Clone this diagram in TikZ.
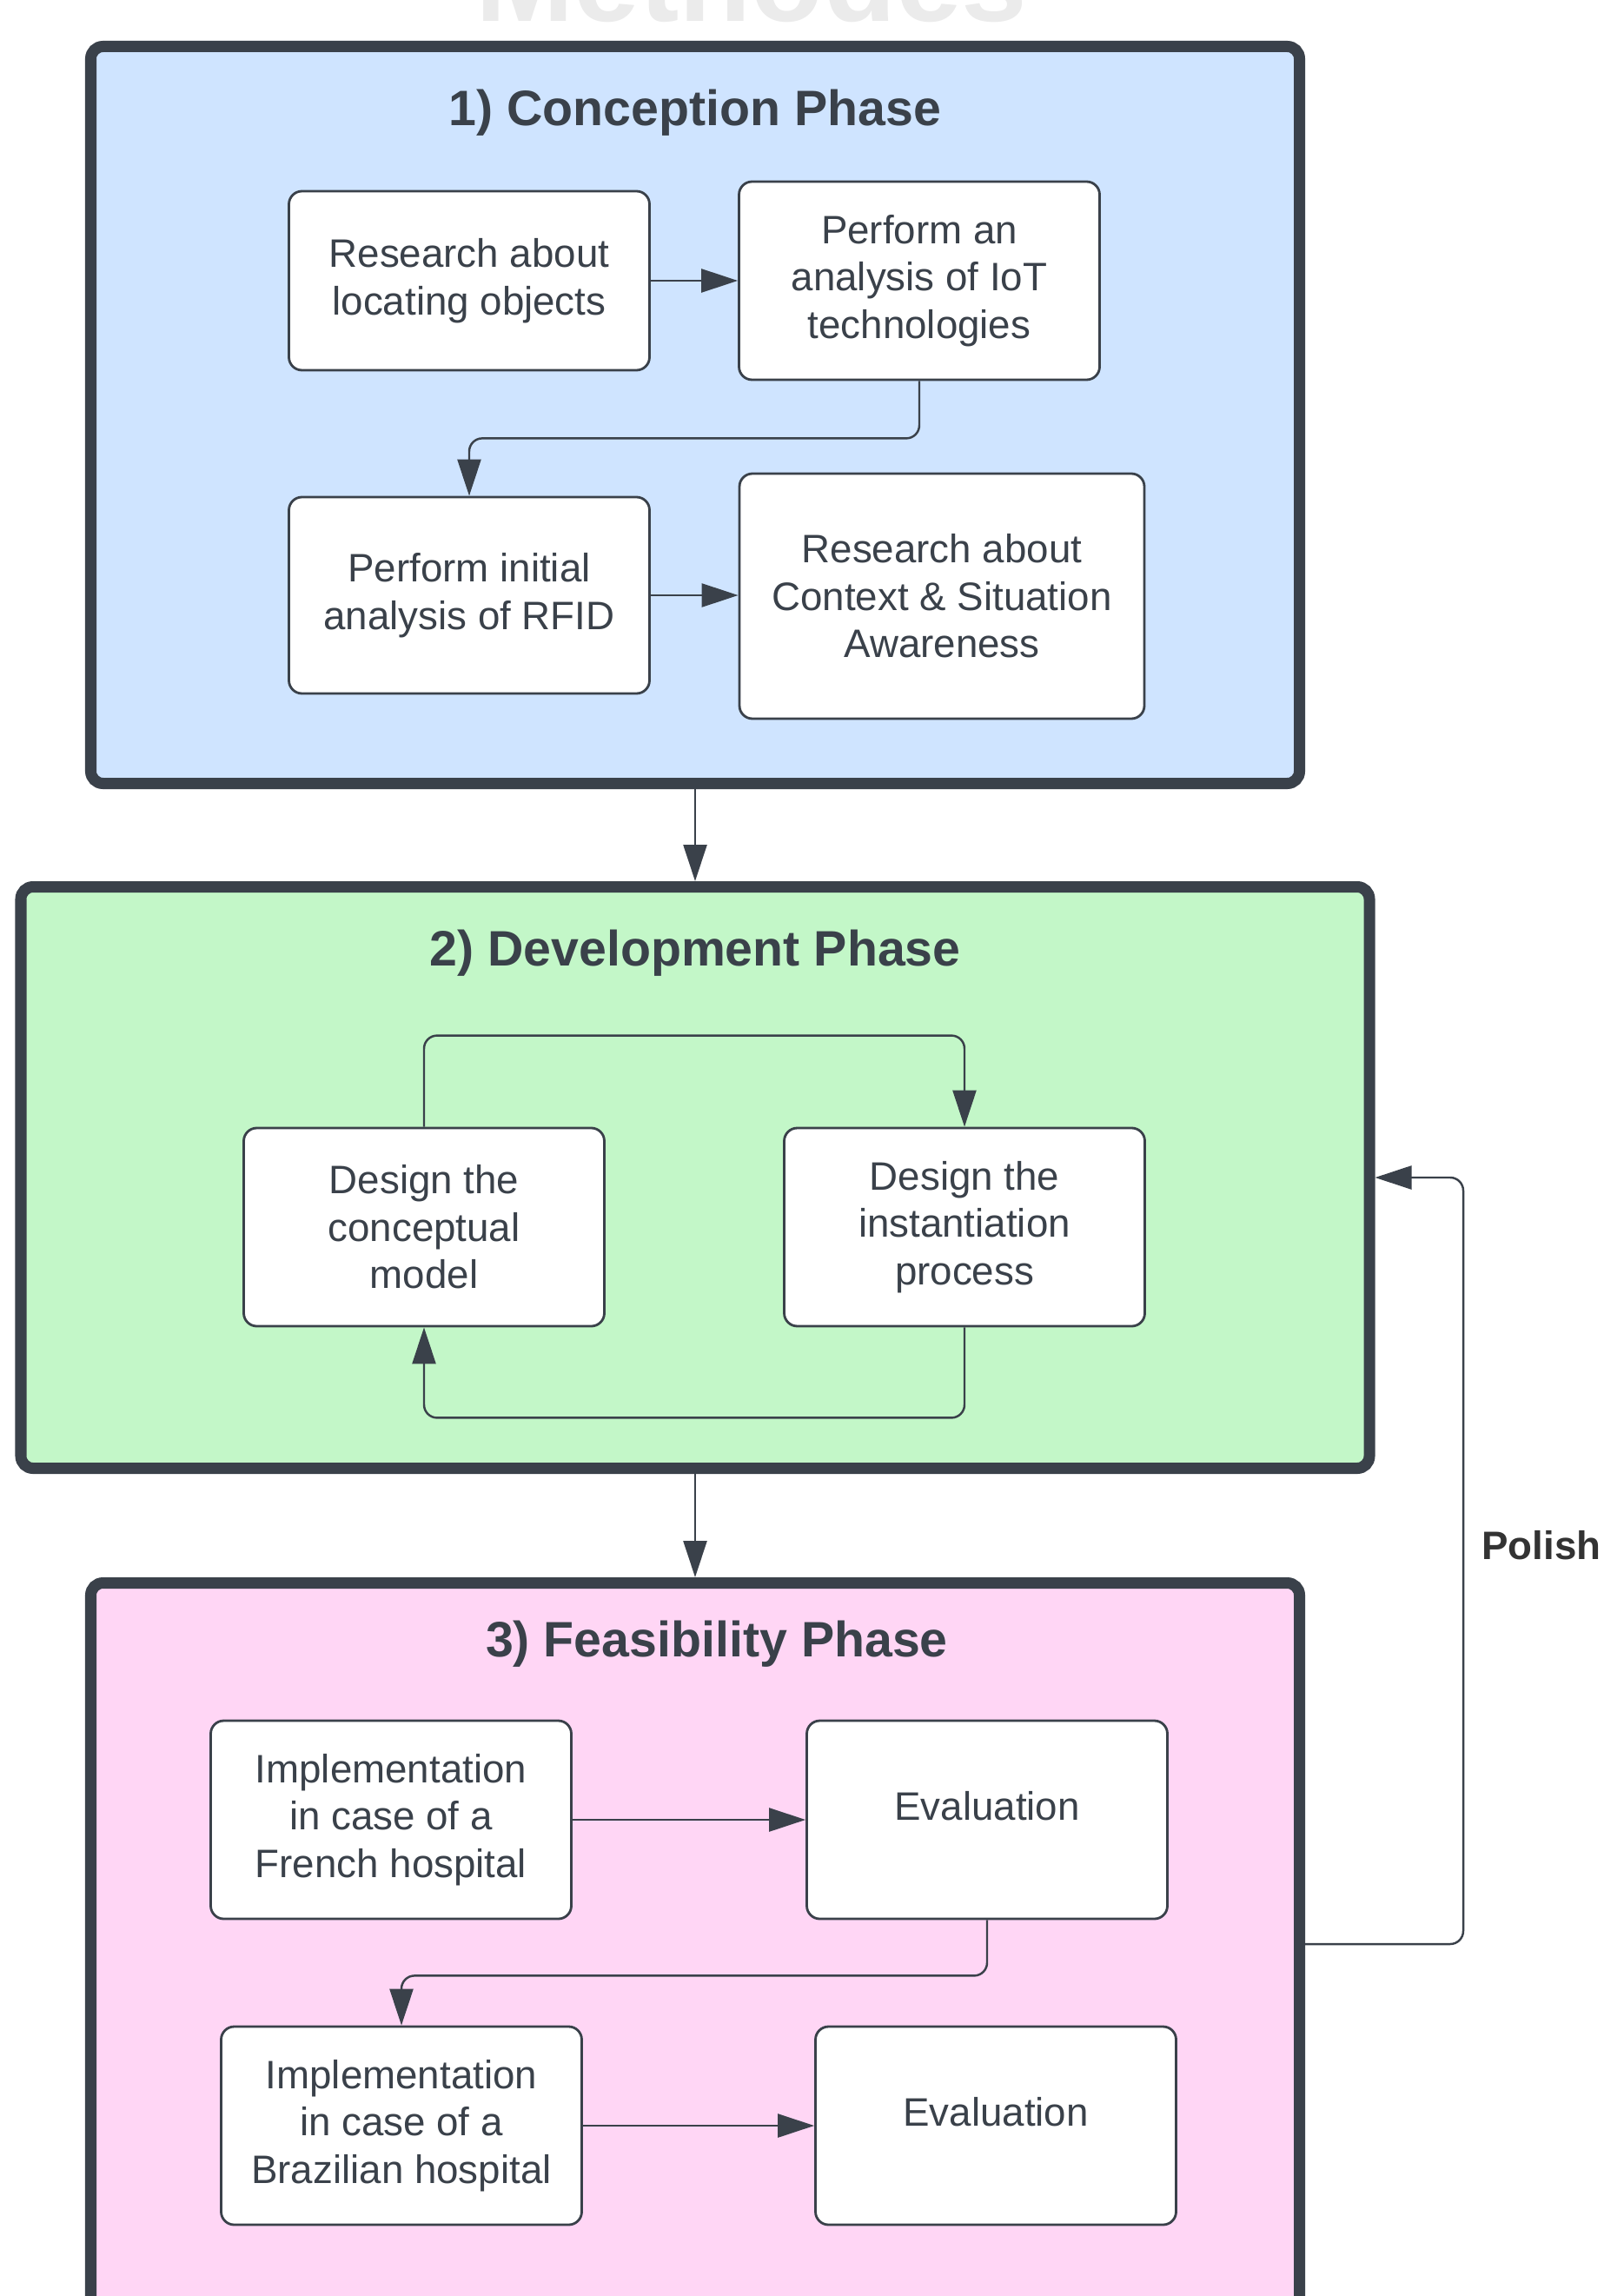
\documentclass[tikz,border=0pt]{standalone}
\usepackage{fontspec}
\setmainfont{Liberation Sans}
\usepackage{tikz}
\usetikzlibrary{arrows.meta}
\definecolor{ink}{HTML}{3A414A}
\definecolor{conceptblue}{HTML}{CFE4FF}
\definecolor{devgreen}{HTML}{C3F7C8}
\definecolor{feaspink}{HTML}{FFD6F5}
\definecolor{ghost}{HTML}{EBEBEB}

\begin{document}
\begin{tikzpicture}[
			phase/.style={rectangle, draw=ink, line width=3.7pt, rounded corners=0.14cm, minimum width=13.91cm},
			task/.style={rectangle, draw=ink, fill=white, line width=0.8pt, rounded corners=0.15cm, minimum width=4.15cm, minimum height=2.28cm, align=center, text=ink, font=\fontsize{13pt}{15.5pt}\selectfont},
			phasetitle/.style={text=ink, font=\fontsize{16.3pt}{19pt}\selectfont\bfseries},
			conn/.style={draw=ink, line width=0.7pt, rounded corners=0.15cm, -{Triangle[length=0.42cm, width=0.27cm]}}
			]
			
			\useasboundingbox (0,0) rectangle (18.45,-26.42);
			\clip (0,0) rectangle (18.45,-26.42);
			
			% Faded heading above the first phase
			\node[anchor=base, text=ghost, font=\fontsize{38.7pt}{40pt}\selectfont\bfseries] (ghost) at (8.65,-0.25) {Methodes};
			
			% Phases
			\node[phase, fill=conceptblue, minimum height=8.48cm] (concept) at (8.00,-4.775) {};
			\node[phase, fill=devgreen, minimum width=15.52cm, minimum height=6.69cm] (develop) at (8.00,-13.55) {};
			\node[phase, fill=feaspink, minimum height=9.77cm] (feasible) at (8.00,-23.10) {};
			
			\node[phasetitle] (concepttitle) at (8.00,-1.30) {1) Conception Phase};
			\node[phasetitle] (developtitle) at (8.00,-10.97) {2) Development Phase};
			\node[phasetitle] (feasibletitle) at (8.25,-18.92) {3) Feasibility Phase};
			
			% Conception steps
			\node[task, minimum height=2.06cm] (locate) at (5.40,-3.23) {Research about\\locating objects};
			\node[task] (iot) at (10.58,-3.23) {Perform an\\analysis of IoT\\technologies};
			\node[task, minimum height=2.26cm] (rfid) at (5.40,-6.85) {Perform initial\\analysis of RFID};
			\node[task, minimum width=4.66cm, minimum height=2.82cm] (context) at (10.84,-6.86) {Research about\\Context \& Situation\\Awareness};
			
			% Development steps
			\node[task] (conceptual) at (4.88,-14.12) {Design the\\conceptual\\model};
			\node[task] (instantiation) at (11.10,-14.12) {Design the\\instantiation\\process};
			
			% Feasibility steps
			\node[task] (french) at (4.50,-20.94) {Implementation\\in case of a\\French hospital};
			\node[task, text depth=0.33cm] (eval1) at (11.36,-20.94) {Evaluation};
			\node[task] (brazil) at (4.62,-24.46) {Implementation\\in case of a\\Brazilian hospital};
			\node[task, text depth=0.33cm] (eval2) at (11.46,-24.46) {Evaluation};
			
			% Connectors inside the phases
			\draw[conn] (locate) -- (iot);
			\draw[conn] (iot.south) -- ++(0,-0.66) -| (rfid.north);
			\draw[conn] (rfid) -- (context.west |- rfid);
			\draw[conn] (conceptual.north) -- ++(0,1.05) -| (instantiation.north);
			\draw[conn] (instantiation.south) -- ++(0,-1.04) -| (conceptual.south);
			\draw[conn] (french) -- (eval1);
			\draw[conn] (eval1.south) -- ++(0,-0.64) -| (brazil.north);
			\draw[conn] (brazil) -- (eval2);
			
			% Connectors between the phases
			\draw[conn] (concept.south) -- (develop.north);
			\draw[conn] (develop.south) -- (feasible.north);
			
			% Polish loop
			\coordinate (polishturn) at (16.84,-22.37);
			\draw[conn] (polishturn -| feasible.east) -- (polishturn) |- (develop.east);
			\node[text=black!80, font=\fontsize{13pt}{15.5pt}\selectfont\bfseries] (polish) at (17.74,-17.78) {Polish};
			
		\end{tikzpicture}
\end{document}
